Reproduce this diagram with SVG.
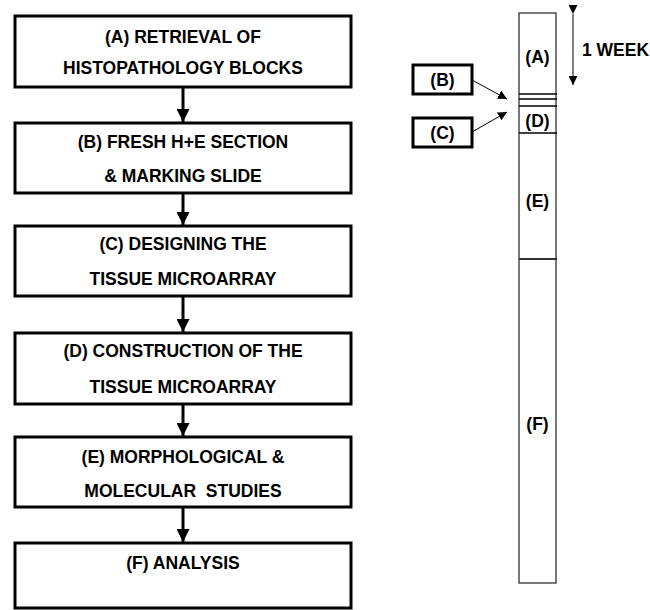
<svg xmlns="http://www.w3.org/2000/svg" width="650" height="610" viewBox="0 0 650 610">
<style>
.box{fill:#fff;stroke:#000;stroke-width:3}
.t{font-family:"Liberation Sans",Arial,sans-serif;font-weight:bold;font-size:17.5px;fill:#000;text-anchor:middle}
.col{fill:#fff;stroke:#222;stroke-width:1.2}
.div{stroke:#000;stroke-width:1.3}
.flow{stroke:#000;stroke-width:3;fill:none}
.thin{stroke:#000;stroke-width:1;fill:none}
</style>
<defs>
<marker id="bigHead" viewBox="0 0 10 10" refX="10" refY="5" markerWidth="13" markerHeight="13" markerUnits="userSpaceOnUse" orient="auto">
<path d="M0,0 L10,5 L0,10 Z" fill="#000"/>
</marker>
<marker id="smallHead" viewBox="0 0 10 10" refX="10" refY="5" markerWidth="9" markerHeight="9" markerUnits="userSpaceOnUse" orient="auto">
<path d="M0,0 L10,5 L0,10 Z" fill="#000"/>
</marker>
</defs>
<g id="connectors">
<line class="flow" x1="183" y1="87" x2="183" y2="122" marker-end="url(#bigHead)"/>
<line class="flow" x1="183" y1="193" x2="183" y2="225" marker-end="url(#bigHead)"/>
<line class="flow" x1="183" y1="296" x2="183" y2="332" marker-end="url(#bigHead)"/>
<line class="flow" x1="183" y1="404" x2="183" y2="436" marker-end="url(#bigHead)"/>
<line class="flow" x1="183" y1="507" x2="183" y2="542" marker-end="url(#bigHead)"/>
<line class="thin" x1="472" y1="80" x2="507" y2="99" marker-end="url(#smallHead)"/>
<line class="thin" x1="472" y1="132" x2="507" y2="112" marker-end="url(#smallHead)"/>
<line class="thin" x1="573" y1="14" x2="573" y2="85" marker-start="url(#smallHead)" marker-end="url(#smallHead)"/>
</g>
<g id="nodeA">
<rect class="box" x="15" y="16" width="336" height="71"/>
<text class="t" x="183" y="43">(A) RETRIEVAL OF</text>
<text class="t" x="183" y="74">HISTOPATHOLOGY BLOCKS</text>
</g>
<g id="nodeB">
<rect class="box" x="15" y="123" width="336" height="70"/>
<text class="t" x="183" y="148">(B) FRESH H+E SECTION</text>
<text class="t" x="183" y="182">&amp; MARKING SLIDE</text>
</g>
<g id="nodeC">
<rect class="box" x="15" y="226" width="336" height="70"/>
<text class="t" x="183" y="250">(C) DESIGNING THE</text>
<text class="t" x="183" y="285">TISSUE MICROARRAY</text>
</g>
<g id="nodeD">
<rect class="box" x="15" y="333" width="336" height="71"/>
<text class="t" x="183" y="357">(D) CONSTRUCTION OF THE</text>
<text class="t" x="183" y="393">TISSUE MICROARRAY</text>
</g>
<g id="nodeE">
<rect class="box" x="15" y="437" width="336" height="70"/>
<text class="t" x="183" y="463">(E) MORPHOLOGICAL &amp;</text>
<text class="t" x="183" y="497" xml:space="preserve">MOLECULAR  STUDIES</text>
</g>
<g id="nodeF">
<rect class="box" x="15" y="543" width="336" height="65"/>
<text class="t" x="183" y="569">(F) ANALYSIS</text>
</g>
<g id="nodeSmallB">
<rect class="box" x="413" y="65" width="59" height="29"/>
<text class="t" x="442.5" y="86">(B)</text>
</g>
<g id="nodeSmallC">
<rect class="box" x="413" y="118" width="59" height="29"/>
<text class="t" x="442.5" y="139">(C)</text>
</g>
<g id="timeline">
<rect class="col" x="519" y="13" width="37" height="570"/>
<line class="div" x1="519" y1="94" x2="557" y2="94"/>
<line class="div" x1="519" y1="99" x2="557" y2="99"/>
<line class="div" x1="519" y1="106" x2="557" y2="106"/>
<line class="div" x1="519" y1="133" x2="557" y2="133"/>
<line x1="519" y1="259" x2="557" y2="259" stroke="#333" stroke-width="2"/>
<text class="t" x="537.5" y="63">(A)</text>
<text class="t" x="537.5" y="127">(D)</text>
<text class="t" x="537.5" y="207">(E)</text>
<text class="t" x="537.5" y="430">(F)</text>
<text class="t" x="582" y="56" style="text-anchor:start">1 WEEK</text>
</g>
</svg>
